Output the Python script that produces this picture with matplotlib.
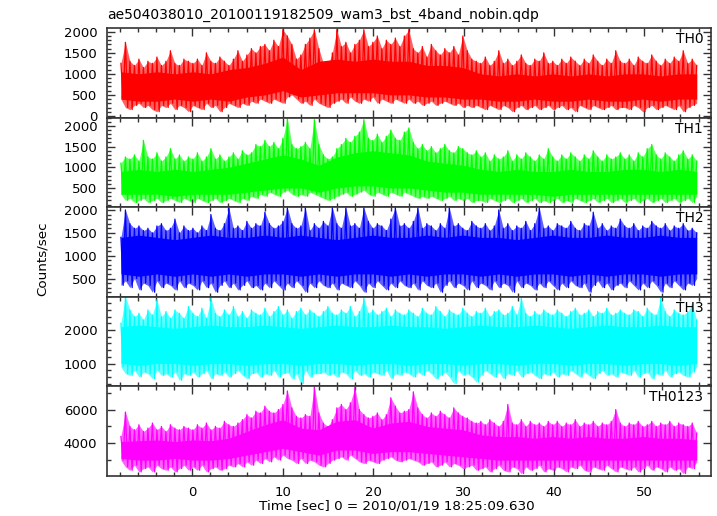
import matplotlib.pyplot as plt
import numpy as np
from matplotlib.ticker import MultipleLocator

# light curve envelopes (counts/sec), read every 0.5 s from the picture
n_bins = 129
t_start, t_stop = -7.9, 55.8

th0_hi = [1250, 1750, 1300, 1200, 1350, 1150, 1300, 1250, 1400, 1200, 1300, 1550, 1250, 1200, 1350, 1300,
          1250, 1350, 1200, 1500, 1300, 1250, 1400, 1300, 1200, 1350, 1550, 1300, 1450, 1600, 1500, 1650,
          1700, 1550, 1800, 1650, 2050, 1900, 1700, 1350, 1450, 1700, 1850, 2050, 1600, 1250, 1200, 1500,
          2050, 1650, 1750, 1500, 1700, 1800, 2050, 1650, 1750, 1900, 1600, 1800, 1700, 1850, 1650, 1900,
          2050, 1600, 1500, 1650, 1400, 1700, 1550, 1450, 1600, 1500, 1650, 1450, 1900, 1550, 1350, 1300,
          1250, 1400, 1200, 1300, 1550, 1250, 1350, 1200, 1300, 1450, 1250, 1200, 1350, 1300, 1500, 1250,
          1300, 1200, 1350, 1250, 1400, 1300, 1200, 1350, 1250, 1450, 1300, 1200, 1350, 1250, 1550, 1300,
          1250, 1350, 1200, 1400, 1300, 1250, 1450, 1300, 1200, 1350, 1250, 1400, 1300, 1550, 1250, 1350,
          1200]
th0_lo = [400, 200, 150, 250, 300, 200, 250, 150, 100, 250, 200, 300, 150, 250, 200, 100,
          250, 200, 150, 300, 200, 250, 100, 200, 300, 250, 200, 300, 250, 350, 300, 400,
          350, 300, 400, 350, 300, 450, 500, 400, 300, 350, 250, 400, 300, 250, 200, 300,
          350, 400, 300, 450, 350, 300, 400, 350, 450, 300, 400, 350, 300, 400, 350, 300,
          400, 300, 350, 250, 300, 350, 250, 300, 350, 300, 250, 300, 200, 250, 200, 250,
          200, 150, 250, 200, 150, 250, 200, 100, 200, 250, 150, 200, 250, 150, 200, 250,
          150, 200, 250, 150, 200, 100, 250, 200, 150, 250, 200, 150, 200, 250, 150, 200,
          200, 150, 250, 200, 100, 200, 250, 150, 200, 250, 200, 150, 250, 100, 200, 250,
          300]

th1_hi = [1100, 1250, 1200, 1300, 1150, 1650, 1250, 1200, 1350, 1150, 1250, 1450, 1200, 1300, 1150, 1250,
          1200, 1350, 1150, 1250, 1450, 1200, 1300, 1150, 1250, 1350, 1200, 1400, 1300, 1350, 1550, 1500,
          1650, 1500, 1600, 1450, 1700, 2180, 1550, 1450, 1500, 1600, 1450, 2150, 1550, 1300, 1200, 1250,
          1450, 1550, 1700, 1600, 1750, 1850, 2150, 1700, 1650, 1800, 1600, 1750, 1900, 1700, 1650, 1850,
          1950, 1600, 1450, 1550, 1400, 1500, 1350, 1450, 1550, 1400, 1350, 1500, 1450, 1350, 1300, 1400,
          1250, 1350, 1150, 1300, 1200, 1250, 1400, 1150, 1300, 1200, 1350, 1250, 1150, 1300, 1200, 1450,
          1250, 1150, 1300, 1200, 1350, 1250, 1150, 1300, 1200, 1400, 1250, 1150, 1300, 1200, 1250, 1350,
          1200, 1300, 1150, 1350, 1250, 1450, 1550, 1300, 1200, 1350, 1250, 1150, 1300, 1400, 1200, 1300,
          1150]
th1_lo = [350, 200, 250, 150, 200, 250, 150, 200, 250, 150, 200, 250, 200, 150, 250, 200,
          150, 250, 200, 150, 200, 250, 150, 200, 250, 200, 150, 250, 200, 300, 250, 350,
          300, 400, 350, 300, 400, 450, 350, 300, 350, 300, 400, 350, 300, 250, 200, 250,
          300, 350, 400, 300, 350, 400, 450, 350, 300, 400, 350, 300, 400, 350, 300, 400,
          350, 300, 250, 300, 250, 300, 250, 200, 250, 300, 200, 250, 200, 250, 150, 200,
          200, 150, 250, 200, 150, 200, 250, 150, 200, 250, 150, 200, 250, 150, 200, 150,
          200, 250, 150, 200, 150, 250, 200, 150, 200, 250, 150, 200, 250, 150, 200, 250,
          150, 200, 250, 150, 200, 250, 150, 200, 250, 150, 200, 250, 150, 200, 250, 150,
          300]

th2_hi = [1400, 2000, 1700, 1600, 1650, 1550, 1600, 1500, 1650, 1700, 1550, 1600, 1800, 1500, 1650, 1550,
          1600, 1500, 1650, 1550, 1900, 1600, 1550, 1700, 2050, 1600, 1650, 1550, 1750, 1600, 1700, 1650,
          1950, 1700, 1600, 1650, 1750, 2050, 1700, 1600, 1650, 2050, 1550, 1700, 1600, 1750, 1650, 2050,
          1700, 1600, 2050, 1650, 1700, 1600, 2050, 1750, 1600, 1700, 1650, 1550, 1800, 2050, 1650, 1700,
          1600, 1750, 2050, 1600, 1700, 1650, 1550, 1700, 1600, 2050, 1650, 1700, 1600, 1550, 1750, 1650,
          1600, 1700, 1550, 1650, 2000, 1600, 1700, 1550, 1650, 1600, 1750, 1550, 1700, 2050, 1600, 1650,
          1550, 1700, 1650, 1600, 1750, 1600, 1550, 1700, 1650, 1950, 1600, 1700, 1550, 1650, 1600, 1800,
          1650, 1600, 1700, 1550, 1650, 1600, 1750, 1650, 1600, 1700, 1550, 1650, 1600, 1700, 1550, 1600,
          1500]
th2_lo = [350, 450, 300, 500, 250, 400, 350, 200, 450, 300, 400, 350, 250, 450, 300, 400,
          350, 250, 450, 300, 400, 200, 350, 450, 300, 400, 250, 350, 450, 300, 350, 250,
          400, 300, 450, 350, 250, 400, 300, 450, 350, 200, 400, 300, 450, 350, 300, 400,
          250, 400, 350, 300, 450, 350, 200, 400, 300, 450, 350, 250, 400, 300, 450, 350,
          300, 400, 250, 450, 350, 300, 400, 200, 350, 450, 300, 400, 350, 250, 450, 300,
          400, 350, 250, 450, 300, 400, 350, 200, 450, 300, 400, 350, 250, 400, 300, 450,
          350, 250, 400, 300, 450, 350, 300, 400, 200, 350, 450, 300, 400, 250, 350, 400,
          300, 450, 350, 250, 400, 300, 450, 350, 200, 400, 300, 450, 350, 250, 400, 350,
          500]

th3_hi = [2200, 3000, 2600, 2400, 2500, 2300, 2600, 2450, 2900, 2400, 2550, 2350, 2600, 2500, 2350, 2700,
          2500, 2400, 2650, 2350, 2950, 2500, 2400, 2600, 2450, 2700, 2400, 2550, 2350, 2600, 2500, 2450,
          2650, 2400, 2550, 2700, 2450, 2600, 2350, 2550, 2650, 2450, 2600, 2500, 2400, 2550, 2700, 2500,
          2450, 2600, 2500, 2700, 2400, 2550, 2950, 2500, 2600, 2450, 2550, 2650, 2400, 2600, 2500, 2450,
          2600, 2500, 2400, 2650, 2500, 2450, 2700, 2550, 2400, 2600, 2500, 2450, 2650, 2500, 2400, 2550,
          2500, 2650, 2400, 2550, 2600, 2450, 2500, 2700, 2450, 2950, 2500, 2400, 2550, 2450, 2600, 2500,
          2450, 2600, 2500, 2400, 2550, 2650, 2450, 2500, 2600, 2400, 2550, 2500, 2650, 2450, 2500, 2600,
          2500, 2450, 2600, 2550, 2400, 2650, 2500, 2450, 2950, 2550, 2400, 2600, 2500, 2450, 2550, 2750,
          2300]
th3_lo = [900, 700, 650, 800, 600, 750, 700, 550, 800, 650, 700, 600, 750, 500, 700, 650,
          750, 600, 700, 800, 550, 700, 650, 750, 600, 700, 800, 650, 550, 700, 750, 600,
          700, 650, 800, 600, 700, 750, 550, 700, 400, 800, 600, 700, 700, 750, 650, 700,
          600, 750, 700, 550, 800, 650, 700, 600, 750, 700, 650, 800, 550, 700, 650, 750,
          700, 600, 750, 650, 800, 700, 550, 650, 750, 600, 400, 800, 650, 700, 600, 450,
          650, 800, 700, 600, 750, 550, 700, 650, 800, 600, 700, 750, 650, 550, 700, 650,
          750, 600, 700, 650, 800, 700, 600, 750, 650, 550, 700, 800, 650, 700, 600, 750,
          700, 650, 800, 600, 700, 750, 550, 700, 650, 800, 600, 700, 750, 650, 600, 750,
          900]

th0123_hi = [4400, 5850, 5000, 4800, 5100, 4700, 4900, 5200, 4800, 5000, 4700, 5100, 4900, 4800, 5000, 4900,
             4800, 5100, 4900, 5200, 4800, 5000, 4900, 5300, 5100, 5000, 5200, 5400, 5700, 5500, 5900, 5800,
             6200, 5900, 5800, 6000, 6300, 7100, 6100, 5600, 5500, 5700, 5600, 7350, 5800, 5200, 5000, 5400,
             6100, 6300, 6000, 6400, 7300, 6000, 5700, 5500, 5600, 5800, 5400, 5700, 6700, 6200, 5800, 5900,
             6000, 7050, 6100, 5700, 5500, 5800, 5600, 5900, 5700, 5500, 6100, 5800, 5600, 5500, 5300, 5200,
             5300, 5100, 5400, 5200, 5000, 5300, 6300, 5200, 5100, 5400, 5000, 5300, 5100, 5200, 5000, 5300,
             5100, 5300, 5000, 5200, 5100, 5400, 5000, 5200, 5100, 5300, 5000, 5200, 5100, 5300, 6000, 5200,
             5000, 5200, 5100, 5300, 5000, 5100, 5300, 5000, 5200, 5100, 5300, 5000, 5200, 5100, 5000, 5200,
             4600]
th0123_lo = [3000, 2600, 2400, 2700, 2300, 2500, 2600, 2300, 2700, 2500, 2400, 2600, 2300, 2500, 2700, 2400,
             2600, 2400, 2700, 2300, 2500, 2600, 2400, 2500, 2700, 2600, 2800, 2600, 2900, 2700, 3000, 2800,
             3100, 2900, 3200, 3000, 3300, 3100, 3000, 2800, 3100, 2800, 3000, 2900, 2700, 2600, 2800, 3000,
             3100, 3200, 3000, 3300, 3100, 2900, 2800, 3000, 2900, 2800, 3000, 3100, 3200, 3000, 2900, 3000,
             3100, 3000, 2900, 2700, 2800, 2900, 2600, 2700, 2900, 2600, 2800, 2700, 2500, 2600, 2700, 2400,
             2500, 2600, 2300, 2500, 2700, 2400, 2300, 2600, 2500, 2200, 2600, 2400, 2500, 2700, 2300, 2500,
             2400, 2600, 2500, 2300, 2600, 2500, 2700, 2400, 2300, 2600, 2500, 2400, 2700, 2500, 2300, 2600,
             2500, 2400, 2600, 2300, 2500, 2700, 2400, 2600, 2500, 2300, 2600, 2400, 2500, 2200, 2600, 2500,
             2900]

# solid core of each light curve, read every 2 s
n_core = 33
th0_core_hi = [1050, 1000, 1050, 1000, 1050, 1000, 1100, 1150, 1250, 1400, 1100, 1300, 1350, 1300, 1350, 1300,
               1300, 1200, 1200, 1150, 1000, 950, 1000, 950, 1000, 950, 1000, 950, 1000, 1000, 950, 1000, 1000]
th0_core_lo = [400, 350, 350, 400, 350, 400, 350, 450, 500, 600, 450, 500, 550, 550, 550, 500,
               500, 450, 450, 400, 400, 350, 350, 400, 350, 350, 400, 350, 350, 400, 350, 400, 400]
th1_core_hi = [900, 950, 900, 950, 900, 950, 1000, 1100, 1200, 1300, 1200, 1050, 1250, 1350, 1400, 1350,
               1300, 1150, 1100, 1050, 950, 900, 950, 900, 900, 950, 900, 900, 950, 950, 900, 950, 900]
th1_core_lo = [350, 350, 350, 300, 350, 350, 350, 400, 450, 500, 500, 400, 500, 550, 550, 500,
               500, 450, 400, 400, 350, 350, 350, 350, 300, 350, 350, 350, 350, 350, 350, 350, 350]
th2_core_hi = [1400, 1450, 1400, 1350, 1400, 1450, 1400, 1400, 1450, 1400, 1450, 1400, 1350, 1400, 1450, 1400,
               1400, 1450, 1400, 1450, 1400, 1400, 1350, 1400, 1450, 1400, 1400, 1450, 1400, 1400, 1450, 1400, 1400]
th2_core_lo = [600, 550, 600, 550, 600, 550, 600, 550, 600, 600, 550, 600, 550, 600, 600, 550,
               600, 550, 600, 600, 550, 600, 550, 600, 600, 550, 600, 550, 600, 600, 550, 600, 600]
th3_core_hi = [2100, 2150, 2100, 2050, 2100, 2150, 2100, 2100, 2150, 2100, 2050, 2100, 2150, 2100, 2100, 2150,
               2100, 2100, 2050, 2100, 2150, 2100, 2100, 2150, 2100, 2050, 2100, 2150, 2100, 2100, 2150, 2100, 2100]
th3_core_lo = [1000, 950, 1000, 1000, 950, 1000, 1000, 950, 1000, 1000, 950, 1000, 1000, 950, 1000, 1000,
               950, 1000, 1000, 950, 1000, 1000, 950, 1000, 1000, 950, 1000, 1000, 950, 1000, 1000, 950, 1000]
th0123_core_hi = [4100, 4150, 4200, 4100, 4200, 4150, 4300, 4700, 5100, 5400, 4900, 4800, 5300, 5400, 4900, 5200,
                  5300, 5000, 4900, 4800, 4500, 4400, 4400, 4300, 4400, 4300, 4400, 4300, 4300, 4400, 4300, 4300, 4200]
th0123_core_lo = [3100, 3000, 3000, 3100, 3000, 3000, 3100, 3300, 3500, 3700, 3500, 3300, 3600, 3600, 3400, 3500,
                  3500, 3400, 3300, 3200, 3100, 3000, 3000, 3000, 3000, 3000, 3000, 3000, 3000, 3000, 3000, 3000, 3000]

names = ['TH0', 'TH1', 'TH2', 'TH3', 'TH0123']
colors = ['#ff0000', '#00ff00', '#0000ff', '#00ffff', '#ff00ff']
highs = [th0_hi, th1_hi, th2_hi, th3_hi, th0123_hi]
lows = [th0_lo, th1_lo, th2_lo, th3_lo, th0123_lo]
core_highs = [th0_core_hi, th1_core_hi, th2_core_hi, th3_core_hi, th0123_core_hi]
core_lows = [th0_core_lo, th1_core_lo, th2_core_lo, th3_core_lo, th0123_core_lo]
ylims = [(-40, 2090), (36, 2200), (100, 2060), (320, 2990), (2060, 7370)]
ymajor = [500, 500, 500, 1000, 2000]
yminor = [100, 100, 100, 200, 1000]

title = 'ae504038010_20100119182509_wam3_bst_4band_nobin.qdp'
xlabel = 'Time [sec] 0 = 2010/01/19 18:25:09.630'

plt.rcParams['font.family'] = 'DejaVu Sans'
plt.rcParams['font.size'] = 9.5

t = np.linspace(t_start, t_stop, n_bins)
t_core = np.linspace(t_start, t_stop, n_core)
half = (t[1] - t[0]) / 2

W, H = 717, 516
fig = plt.figure(figsize=(W / 100, H / 100), dpi=100)

left, right = 107, 711
top, bottom = 28, 476
ph = (bottom - top) / 5

for k in range(5):
    y_top = top + k * ph
    ax = fig.add_axes([left / W, 1 - (y_top + ph) / H, (right - left) / W, ph / H])
    # faint envelope, solid core, then a zigzag through the peaks and dips
    ax.fill_between(t, lows[k], highs[k], color=colors[k], alpha=0.62, linewidth=0)
    ax.fill_between(t_core, core_lows[k], core_highs[k], color=colors[k], linewidth=0)
    xs = np.empty(2 * n_bins)
    ys = np.empty(2 * n_bins)
    xs[0::2] = t
    xs[1::2] = t + half
    ys[0::2] = highs[k]
    ys[1::2] = lows[k]
    ax.plot(xs[:-1], ys[:-1], color=colors[k], linewidth=0.9)
    ax.set_xlim(-9.44, 57.38)
    ax.set_ylim(*ylims[k])
    ax.xaxis.set_major_locator(MultipleLocator(10))
    ax.xaxis.set_minor_locator(MultipleLocator(2))
    ax.yaxis.set_major_locator(MultipleLocator(ymajor[k]))
    ax.yaxis.set_minor_locator(MultipleLocator(yminor[k]))
    ax.tick_params(which='both', direction='in', top=True, right=True, color='#333333', width=1.0)
    ax.tick_params(which='major', length=6, pad=7)
    ax.tick_params(which='minor', length=3)
    for s in ax.spines.values():
        s.set_linewidth(1.2)
        s.set_color('#333333')
    if k < 4:
        ax.tick_params(labelbottom=False)
    ax.text(0.987, 0.955, names[k], transform=ax.transAxes, ha='right', va='top', fontsize=10)

fig.text(left / W, 1 - 15 / H, title, ha='left', va='center', fontsize=10)
fig.text(397 / W, 1 - 506 / H, xlabel, ha='center', va='center', fontsize=9.7)
fig.text(42 / W, 1 - 259 / H, 'Counts/sec', ha='center', va='center', rotation=90, fontsize=9.7)

fig.savefig('out.png', dpi=100)
